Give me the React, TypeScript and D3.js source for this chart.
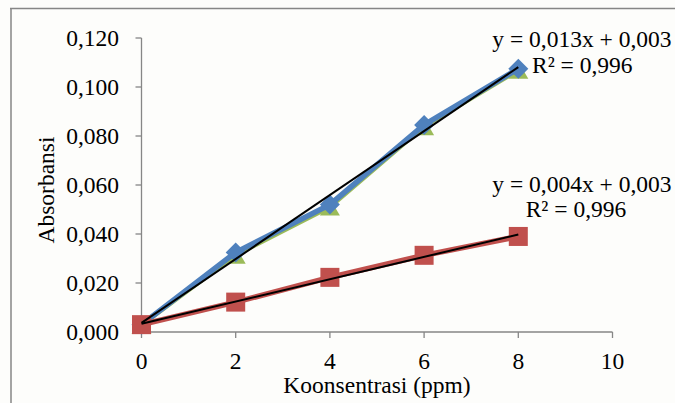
import React from "react";
import * as d3 from "d3";

const xValues = [0, 2, 4, 6, 8];
const seriesBlue = [0.003, 0.0325, 0.052, 0.0845, 0.1075];
const seriesGreen = [0.003, 0.0315, 0.0512, 0.084, 0.107];
const seriesRed = [0.003, 0.0122, 0.0223, 0.0313, 0.039];
const xTicks = [0, 2, 4, 6, 8, 10];
const yTicks = [0, 0.02, 0.04, 0.06, 0.08, 0.1, 0.12];
const eqBlue = ["y = 0,013x + 0,003", "R² = 0,996"];
const eqRed = ["y = 0,004x + 0,003", "R² = 0,996"];

const W = 675;
const H = 403;
const font = "'Liberation Serif', 'Times New Roman', serif";
const fs = 23.5;

function fit(xs: number[], ys: number[]) {
  const n = xs.length;
  const mx = d3.mean(xs)!;
  const my = d3.mean(ys)!;
  let sxy = 0, sxx = 0;
  for (let i = 0; i < n; i++) {
    sxy += (xs[i] - mx) * (ys[i] - my);
    sxx += (xs[i] - mx) ** 2;
  }
  const b = sxy / sxx;
  return { a: my - b * mx, b };
}

export default function App() {
  const x = d3.scaleLinear().domain([0, 10]).range([141.5, 612.5]);
  const y = d3.scaleLinear().domain([0, 0.12]).range([332, 38]);
  const fmt = (v: number) => v.toFixed(3).replace(".", ",");
  const line = d3
    .line<number>()
    .x((_, i) => x(xValues[i]))
    .y((d) => y(d));
  const trend = (ys: number[]) => {
    const { a, b } = fit(xValues, ys);
    return { x1: x(0), y1: y(a), x2: x(8), y2: y(a + b * 8) };
  };
  const tb = trend(seriesBlue);
  const tr = trend(seriesRed);
  const axisColor = "#868686";

  return (
    <svg
      width={W}
      height={H}
      style={{ position: "absolute", left: 0, top: 0, background: "#fdfdfb" }}
    >
      <rect x={0} y={0} width={W} height={H} fill="#fdfdfb" />
      <line x1={10} y1={8.5} x2={W} y2={8.5} stroke={axisColor} strokeWidth={1.5} />
      <line x1={11} y1={8} x2={11} y2={H} stroke={axisColor} strokeWidth={1.5} />

      {/* axes */}
      <line x1={x(0)} y1={y(0.12)} x2={x(0)} y2={y(0)} stroke={axisColor} strokeWidth={1.3} />
      <line x1={x(0)} y1={y(0)} x2={x(10)} y2={y(0)} stroke={axisColor} strokeWidth={1.3} />
      {yTicks.map((t) => (
        <g key={"y" + t}>
          <line x1={x(0) - 6} x2={x(0)} y1={y(t)} y2={y(t)} stroke={axisColor} strokeWidth={1.3} />
          <text
            x={119}
            y={y(t)}
            dy="0.33em"
            textAnchor="end"
            fontFamily={font}
            fontSize={fs}
            fill="#000"
          >
            {fmt(t)}
          </text>
        </g>
      ))}
      {xTicks.map((t) => (
        <g key={"x" + t}>
          <line x1={x(t)} x2={x(t)} y1={y(0)} y2={y(0) + 6} stroke={axisColor} strokeWidth={1.3} />
          <text
            x={x(t)}
            y={369}
            textAnchor="middle"
            fontFamily={font}
            fontSize={fs}
            fill="#000"
          >
            {t}
          </text>
        </g>
      ))}
      <text
        x={377}
        y={393}
        textAnchor="middle"
        fontFamily={font}
        fontSize={fs}
        fill="#000"
      >
        Koonsentrasi (ppm)
      </text>
      <text
        transform="translate(54,190) rotate(-90)"
        textAnchor="middle"
        fontFamily={font}
        fontSize={fs}
        fill="#000"
      >
        Absorbansi
      </text>

      {/* green series (underneath) */}
      <path d={line(seriesGreen)!} fill="none" stroke="#9bbb59" strokeWidth={5} />
      {seriesGreen.map((v, i) => {
        const cx = x(xValues[i]);
        const cy = y(v) + 1;
        return (
          <path
            key={"g" + i}
            d={`M${cx},${cy - 9}L${cx + 10},${cy + 8}L${cx - 10},${cy + 8}Z`}
            fill="#9bbb59"
          />
        );
      })}

      {/* blue series */}
      <path d={line(seriesBlue)!} fill="none" stroke="#4f81bd" strokeWidth={5.5} strokeLinejoin="round" />
      {seriesBlue.map((v, i) => {
        const cx = x(xValues[i]);
        const cy = y(v);
        const r = 10;
        return (
          <path
            key={"b" + i}
            d={`M${cx},${cy - r}L${cx + r},${cy}L${cx},${cy + r}L${cx - r},${cy}Z`}
            fill="#4f81bd"
          />
        );
      })}

      {/* red series */}
      <path d={line(seriesRed)!} fill="none" stroke="#c0504d" strokeWidth={5.5} />
      {seriesRed.map((v, i) => {
        const cx = x(xValues[i]);
        const cy = y(v);
        return (
          <rect key={"r" + i} x={cx - 9.5} y={cy - 9.5} width={19} height={19} fill="#c0504d" />
        );
      })}

      {/* trend lines */}
      <line {...tb} stroke="#000" strokeWidth={2} />
      <line {...tr} stroke="#000" strokeWidth={2} />

      {/* equations */}
      <text x={582} y={47} textAnchor="middle" fontFamily={font} fontSize={fs} fill="#000">
        {eqBlue[0]}
      </text>
      <text x={532} y={73} fontFamily={font} fontSize={fs} fill="#000">
        {eqBlue[1]}
      </text>
      <text x={582} y={192} textAnchor="middle" fontFamily={font} fontSize={fs} fill="#000">
        {eqRed[0]}
      </text>
      <text x={576} y={217} textAnchor="middle" fontFamily={font} fontSize={fs} fill="#000">
        {eqRed[1]}
      </text>
    </svg>
  );
}
